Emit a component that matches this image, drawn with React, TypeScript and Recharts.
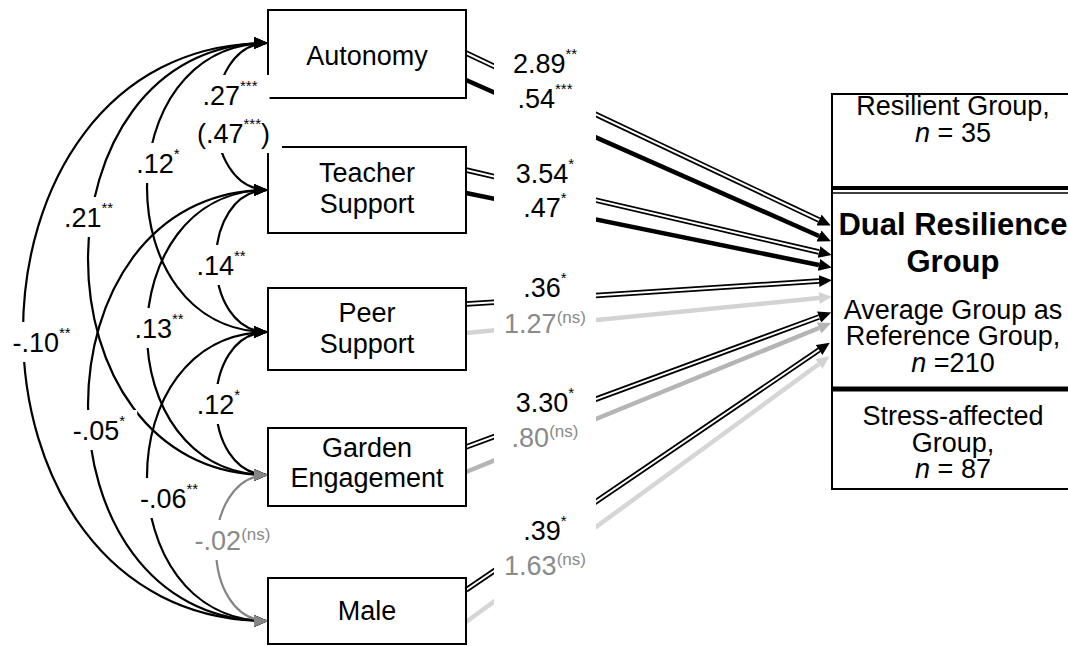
import React from "react";
import { ComposedChart, Line, Scatter, XAxis, YAxis } from "recharts";

const W = 1068;
const H = 646;
const FONT = '"Liberation Sans", Arial, Helvetica, sans-serif';
const FS = 27;

// predictors (left column)
const predictors = ["Autonomy", "Teacher Support", "Peer Support", "Garden Engagement", "Male"];

// paths into the dual resilience group (two estimates per predictor)
const coefA = ["2.89", "3.54", ".36", "3.30", ".39"];
const sigA = ["**", "*", "*", "*", "*"];
const coefB = [".54", ".47", "1.27", ".80", "1.63"];
const sigB = ["***", "*", "(ns)", "(ns)", "(ns)"];

// covariances among predictors
const covFrom = [0, 0, 0, 0, 1, 1, 1, 2, 2, 3];
const covTo = [1, 2, 3, 4, 2, 3, 4, 3, 4, 4];
const covValue = [".27", ".12", ".21", "-.10", ".14", ".13", "-.05", ".12", "-.06", "-.02"];
const covSig = ["***", "*", "**", "**", "**", "**", "*", "*", "**", "(ns)"];
const covAltValue = ".47";
const covAltSig = "***";

// outcome groups (right box)
const groupLines = [
  "Resilient Group,", "n = 35",
  "Dual Resilience", "Group",
  "Average Group as", "Reference Group,", "n =210",
  "Stress-affected", "Group,", "n = 87",
];
const groupBold = [false, false, true, true, false, false, false, false, false, false];

// ---- layout (pixel units = axis units) ----
const BOX_L = 268;
const BOX_R = 466;
const boxTop = [10, 147, 288, 428, 578];
const boxBottom = [98, 233, 370, 506, 644];
const boxTextY = [[65], [182, 213], [322, 353], [457, 487], [620]];
const arcAnchorY = [43, 190, 332, 475, 621];
const arcReach = [52, 121, 180, 245];

const OUT = { x1: 832, x2: 1090, y1: 94, y2: 489, cx: 953 };
const dividers = [
  { y: 188, w: 4 },
  { y: 193, w: 1.5 },
  { y: 389, w: 5 },
];
const groupLineY = [115, 142, 235, 272, 319, 345, 372, 425, 452, 478];

const ARROW_BASE_X = 819;
const startA = [53, 170, 304, 447, 590];
const endA = [220, 252, 281, 317, 350];
const startB = [80, 193, 333, 472, 622];
const endB = [236, 265, 298, 328, 364];
const colorB = ["#000", "#000", "#d3d3d3", "#b5b5b5", "#d6d6d6"];
const markerB = ["out-black", "out-black", "out-light", "out-mid", "out-light"];

const coefX = 545;
const coefYA = [73, 183, 297, 412, 540];
const coefYB = [108, 217, 333, 447, 575];
const covPos = [
  [230, 105], [158, 173], [88.5, 227], [41.5, 352], [221, 275],
  [159, 338], [99, 440], [218.5, 414], [169, 508], [232.5, 550],
];
const covAltPos = [233.5, 143];

const GREY_TEXT = "#8a8a8a";
const GREY_ARC = "#858585";

// plain cubic bezier through 4 control points
const bezier = (context: any) => {
  let pts: number[][] = [];
  return {
    areaStart() {},
    areaEnd() {},
    lineStart() {
      pts = [];
    },
    point(x: number, y: number) {
      pts.push([+x, +y]);
    },
    lineEnd() {
      if (!pts.length) return;
      context.moveTo(pts[0][0], pts[0][1]);
      if (pts.length === 4) {
        context.bezierCurveTo(pts[1][0], pts[1][1], pts[2][0], pts[2][1], pts[3][0], pts[3][1]);
      } else {
        for (let i = 1; i < pts.length; i++) context.lineTo(pts[i][0], pts[i][1]);
      }
    },
  };
};

const em = (s: string) =>
  [...s].reduce((w, c) => {
    if (c === ".") return w + 0.278;
    if (c === "-" || c === "(" || c === ")") return w + 0.333;
    if (c === "*") return w + 0.389;
    if (c === "s") return w + 0.5;
    return w + 0.556;
  }, 0);

function LabelBg(props: any) {
  const { cx, cy, payload } = props;
  const { bgW, bgUp, bgDown } = payload;
  return <rect x={cx - bgW / 2} y={cy - bgUp} width={bgW} height={bgUp + bgDown} fill="#fff" />;
}

function CoefLabel(props: any) {
  const { cx, cy, payload } = props;
  const { value, sig, prefix, suffix } = payload;
  const ns = sig === "(ns)";
  const color = ns ? GREY_TEXT : "#000";
  const supSize = ns ? 17 : 15;
  const shift = ns ? 10 : 14;
  return (
    <text x={cx} y={cy} textAnchor="middle" fontFamily={FONT} fontSize={FS} fill={color}>
      {prefix + value}
      <tspan fontSize={supSize} dy={-shift}>{sig}</tspan>
      {suffix ? <tspan fontSize={FS} dy={shift}>{suffix}</tspan> : null}
    </text>
  );
}

function PlainText(props: any) {
  const { cx, cy, payload } = props;
  const t: string = payload.text;
  const isN = t.startsWith("n ") || t.startsWith("n=");
  return (
    <text
      x={cx}
      y={cy}
      textAnchor="middle"
      fontFamily={FONT}
      fontSize={payload.bold ? 31 : FS}
      fontWeight={payload.bold ? "bold" : "normal"}
      fill="#000"
    >
      {isN ? (
        <>
          <tspan fontStyle="italic">n</tspan>
          {t.slice(1)}
        </>
      ) : (
        t
      )}
    </text>
  );
}

function arrowMarker(id: string, color: string, len: number, half: number, tipAtEnd: boolean) {
  return (
    <marker
      key={id}
      id={id}
      markerUnits="userSpaceOnUse"
      markerWidth={len}
      markerHeight={half * 2}
      viewBox={`0 0 ${len} ${half * 2}`}
      refX={tipAtEnd ? len : 0}
      refY={half}
      orient="auto-start-reverse"
    >
      <path d={`M0,0 L${len},${half} L0,${half * 2} Z`} fill={color} />
    </marker>
  );
}

function seg(key: string, data: { x: number; y: number }[], stroke: string, width: number, extra: any = {}) {
  return (
    <Line
      key={key}
      data={data}
      dataKey="y"
      stroke={stroke}
      strokeWidth={width}
      dot={false}
      activeDot={false}
      isAnimationActive={false}
      type="linear"
      {...extra}
    />
  );
}

export default function App() {
  // boxes
  const boxLines = predictors.map((_, i) =>
    seg(
      `box-${i}`,
      [
        { x: BOX_L, y: boxTop[i] },
        { x: BOX_R, y: boxTop[i] },
        { x: BOX_R, y: boxBottom[i] },
        { x: BOX_L, y: boxBottom[i] },
        { x: BOX_L, y: boxTop[i] },
      ],
      "#000",
      2,
      { strokeLinecap: "square" }
    )
  );
  const outBox = seg(
    "out-box",
    [
      { x: OUT.x2, y: OUT.y1 },
      { x: OUT.x1, y: OUT.y1 },
      { x: OUT.x1, y: OUT.y2 },
      { x: OUT.x2, y: OUT.y2 },
    ],
    "#000",
    2,
    { strokeLinecap: "square" }
  );
  const divLines = dividers.map((d, i) =>
    seg(`div-${i}`, [{ x: OUT.x1, y: d.y }, { x: OUT.x2, y: d.y }], "#000", d.w)
  );

  // covariance arcs
  const arcs = covFrom.map((f, i) => {
    const t = covTo[i];
    const cxp = BOX_L - (arcReach[t - f - 1] * 4) / 3;
    const ns = covSig[i] === "(ns)";
    return seg(
      `arc-${i}`,
      [
        { x: BOX_L, y: arcAnchorY[f] },
        { x: cxp, y: arcAnchorY[f] },
        { x: cxp, y: arcAnchorY[t] },
        { x: BOX_L, y: arcAnchorY[t] },
      ],
      ns ? GREY_ARC : "#000",
      2.2,
      {
        type: bezier,
        markerStart: `url(#${ns ? "arc-grey" : "arc-black"})`,
        markerEnd: `url(#${ns ? "arc-grey" : "arc-black"})`,
      }
    );
  });

  // paths to outcome
  const pathsA = predictors.flatMap((_, i) => {
    const d = [
      { x: BOX_R, y: startA[i] },
      { x: ARROW_BASE_X, y: endA[i] },
    ];
    return [
      seg(`pa-o-${i}`, d, "#000", 5.5, { markerEnd: "url(#out-black)" }),
      seg(`pa-i-${i}`, d, "#fff", 2),
    ];
  });
  const pathsB = predictors.map((_, i) =>
    seg(
      `pb-${i}`,
      [
        { x: BOX_R, y: startB[i] },
        { x: ARROW_BASE_X, y: endB[i] },
      ],
      colorB[i],
      4.5,
      { markerEnd: `url(#${markerB[i]})` }
    )
  );

  // labels
  const coefLabels = [
    ...coefA.map((v, i) => ({ x: coefX, y: coefYA[i], value: v, sig: sigA[i], prefix: "", suffix: "", bgW: 102, bgUp: 46, bgDown: 32 })),
    ...coefB.map((v, i) => ({ x: coefX, y: coefYB[i], value: v, sig: sigB[i], prefix: "", suffix: "", bgW: 102, bgUp: 46, bgDown: 32 })),
    ...covValue.map((v, i) => {
      const supEm = covSig[i] === "(ns)" ? em(covSig[i]) * 17 : em(covSig[i]) * 15;
      return {
        x: covPos[i][0],
        y: covPos[i][1],
        value: v,
        sig: covSig[i],
        prefix: "",
        suffix: "",
        bgW: em(v) * FS + supEm + 24,
        bgUp: 30,
        bgDown: 10,
      };
    }),
    {
      x: covAltPos[0],
      y: covAltPos[1],
      value: covAltValue,
      sig: covAltSig,
      prefix: "(",
      suffix: ")",
      bgW: em("(" + covAltValue + ")") * FS + em(covAltSig) * 15 + 24,
      bgUp: 30,
      bgDown: 10,
    },
  ];

  const plainTexts = [
    ...predictors.flatMap((p, i) => {
      const words = p.split(" ");
      return words.map((w, k) => ({ x: (BOX_L + BOX_R) / 2, y: boxTextY[i][k], text: w, bold: false }));
    }),
    ...groupLines.map((t, i) => ({ x: OUT.cx, y: groupLineY[i], text: t, bold: groupBold[i] })),
  ];

  return (
    <div
      style={{
        position: "absolute",
        left: 0,
        top: 0,
        width: W,
        height: H,
        overflow: "hidden",
        background: "#fff",
      }}
    >
      <ComposedChart width={W} height={H} margin={{ top: 0, right: 0, bottom: 0, left: 0 }}>
        <defs>
          {arrowMarker("arc-black", "#000", 14, 6, true)}
          {arrowMarker("arc-grey", GREY_ARC, 14, 6, true)}
          {arrowMarker("out-black", "#000", 13, 6, false)}
          {arrowMarker("out-light", "#d3d3d3", 13, 6, false)}
          {arrowMarker("out-mid", "#b5b5b5", 13, 6, false)}
        </defs>
        <XAxis type="number" dataKey="x" domain={[0, W]} hide allowDataOverflow />
        <YAxis type="number" dataKey="y" domain={[0, H]} reversed hide allowDataOverflow />
        {pathsB}
        {pathsA}
        {arcs}
        {boxLines}
        {outBox}
        {divLines}
        <Scatter data={coefLabels} shape={(p: any) => <LabelBg {...p} />} isAnimationActive={false} />
        <Scatter data={coefLabels} shape={(p: any) => <CoefLabel {...p} />} isAnimationActive={false} />
        <Scatter data={plainTexts} shape={(p: any) => <PlainText {...p} />} isAnimationActive={false} />
      </ComposedChart>
    </div>
  );
}
